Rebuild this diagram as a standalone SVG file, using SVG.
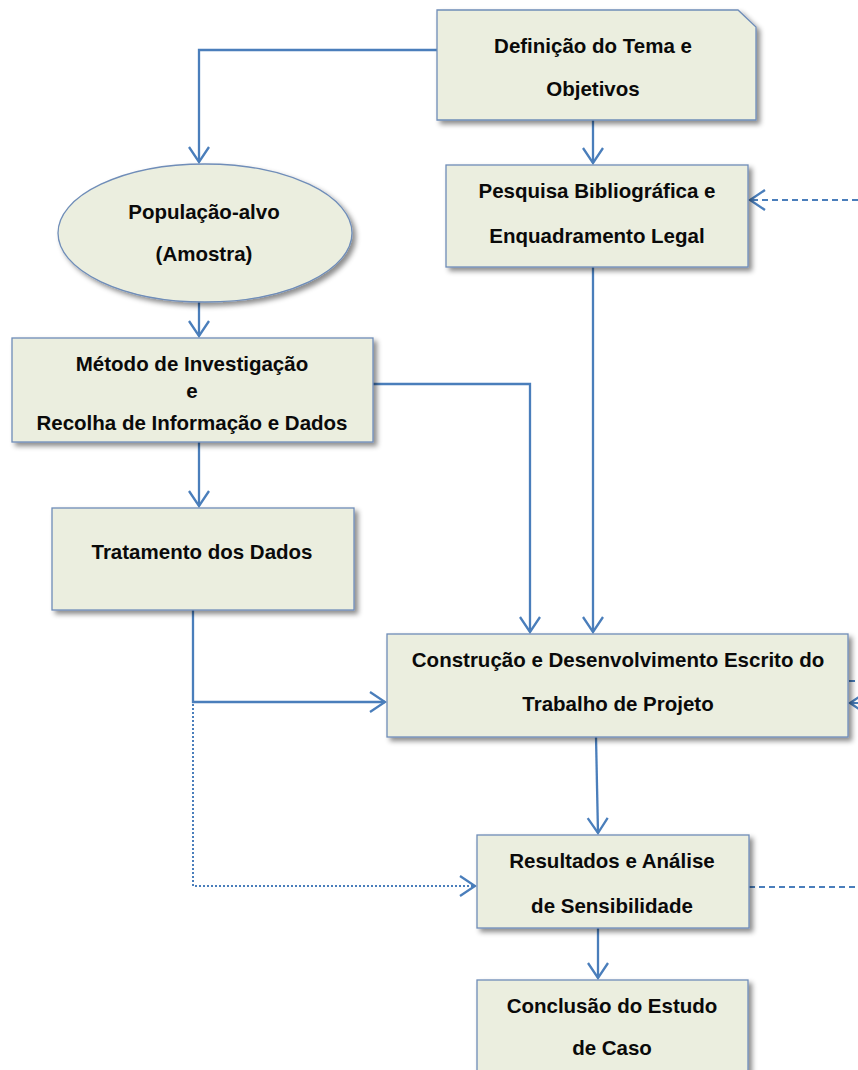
<svg xmlns="http://www.w3.org/2000/svg" width="858" height="1070" viewBox="0 0 858 1070">
  <style>
    .box { fill: #ebeedf; stroke: #6f8db8; stroke-width: 1.3; filter: url(#shadow); }
    .lbl { font-family: "Liberation Sans", Arial, sans-serif; font-weight: bold; font-size: 20.5px; fill: #0a0a0a; text-anchor: middle; }
    .link { fill: none; stroke: #4a7ebb; stroke-width: 2.3; }
    .arrow { marker-end: url(#open); }
    .dash { stroke-dasharray: 6 4; stroke-width: 2; }
    .dot { stroke-dasharray: 2 2; stroke-width: 2; }
  </style>
  <defs>
    <filter id="shadow" x="-10%" y="-10%" width="125%" height="130%">
      <feDropShadow dx="3.5" dy="3.5" stdDeviation="2.5" flood-color="#000" flood-opacity="0.45"/>
    </filter>
    <marker id="open" viewBox="-17 -12 19 24" refX="0" refY="0" markerWidth="19" markerHeight="24" markerUnits="userSpaceOnUse" orient="auto">
      <path d="M-15,-10 L0,0 L-15,10" fill="none" stroke="#4a7ebb" stroke-width="2.3"/>
    </marker>
  </defs>

  <!-- connectors -->
  <g id="connectors">
    <path class="link arrow" d="M437,50 H199 V162"/>
    <path class="link arrow" d="M593,120 V163"/>
    <path class="link dash arrow" d="M858,200 H750"/>
    <path class="link arrow" d="M199,302 V336"/>
    <path class="link arrow" d="M373,384 H530 V632"/>
    <path class="link arrow" d="M593,267 V632"/>
    <path class="link arrow" d="M199,442 V506"/>
    <path class="link arrow" d="M193,610 V702 H385"/>
    <path class="link dot arrow" d="M193,704 V886 H475"/>
    <path class="link dash" d="M849,681 H858"/>
    <path class="link dash arrow" d="M858,703 H850"/>
    <path class="link dash" d="M749,887 H858"/>
    <path class="link arrow" d="M596,737 L598,833"/>
    <path class="link arrow" d="M598,928 V978"/>
  </g>

  <g id="tema">
    <path class="box" d="M437,10 H738 L756,27 V120 H437 Z"/>
    <text class="lbl" x="593" y="53">Definição do Tema e</text>
    <text class="lbl" x="593" y="96">Objetivos</text>
  </g>

  <g id="pesquisa">
    <rect class="box" x="446" y="165" width="302" height="102"/>
    <text class="lbl" x="597" y="198">Pesquisa Bibliográfica e</text>
    <text class="lbl" x="597" y="243">Enquadramento Legal</text>
  </g>

  <g id="populacao">
    <ellipse class="box" cx="205" cy="233" rx="147" ry="69"/>
    <text class="lbl" x="204" y="219">População-alvo</text>
    <text class="lbl" x="204" y="261">(Amostra)</text>
  </g>

  <g id="metodo">
    <rect class="box" x="12" y="338" width="361" height="104"/>
    <text class="lbl" x="192" y="371">Método de Investigação</text>
    <text class="lbl" x="192" y="398">e</text>
    <text class="lbl" x="192" y="430">Recolha de Informação e Dados</text>
  </g>

  <g id="tratamento">
    <rect class="box" x="52" y="508" width="302" height="102"/>
    <text class="lbl" x="202" y="559">Tratamento dos Dados</text>
  </g>

  <g id="construcao">
    <rect class="box" x="387" y="634" width="461" height="103"/>
    <text class="lbl" x="618" y="667">Construção e Desenvolvimento Escrito do</text>
    <text class="lbl" x="618" y="711">Trabalho de Projeto</text>
  </g>

  <g id="resultados">
    <rect class="box" x="477" y="835" width="272" height="93"/>
    <text class="lbl" x="612" y="868">Resultados e Análise</text>
    <text class="lbl" x="612" y="913">de Sensibilidade</text>
  </g>

  <g id="conclusao">
    <rect class="box" x="477" y="980" width="271" height="110"/>
    <text class="lbl" x="612" y="1013">Conclusão do Estudo</text>
    <text class="lbl" x="612" y="1055">de Caso</text>
  </g>
</svg>
